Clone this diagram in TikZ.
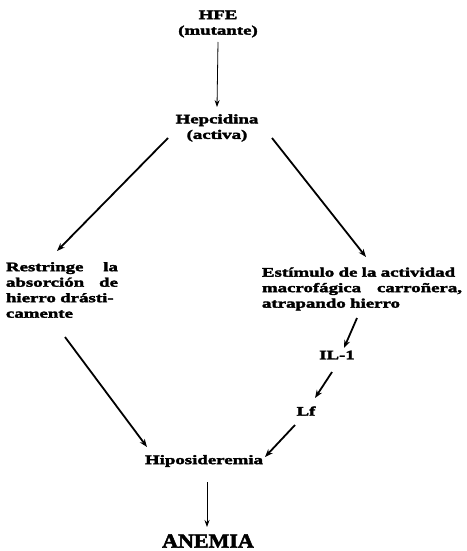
\documentclass[tikz,border=0pt]{standalone}
\usepackage{fontspec}
\setmainfont{Liberation Serif}[FakeStretch=1.45, BoldFeatures={FakeBold=2.5}]
\newfontfamily\anemiafont{Liberation Serif}[FakeStretch=1.1, BoldFeatures={FakeBold=2.5}]
\usetikzlibrary{arrows.meta}
\tikzset{
	txt/.style={inner sep=0pt, font=\bfseries\fontsize{13}{15.5}\selectfont, align=center},
	blk/.style={txt, align=left},
	arr/.style={-{Stealth[length=7pt,width=5pt]}, line width=0.8pt},
	arrthk/.style={-{Stealth[length=8pt,width=6pt]}, line width=1.8pt}
}

\begin{document}
\begin{tikzpicture}[x=1pt,y=-1pt]
		%%%%% START %%%%%
		\useasboundingbox[fill=white] (0,0) rectangle (466,551);
		
		\node[txt] (hfe) at (218,24) {HFE\\(mutante)};
		\node[txt] (hep) at (217,128) {Hepcidina\\(activa)};
		
		\node[blk, text width=112pt] (restr) at (62,290) {Restringe\hfill la\\absorción\hfill de\\hierro drásti-\\camente};
		\node[blk, text width=200pt] (estim) at (362,289) {Estímulo de la actividad\\macrofágica\hfill carroñera,\\atrapando hierro};
		
		\node[txt] (il) at (337,355) {IL-1};
		\node[txt] (lf) at (306,411) {Lf};
		\node[txt] (hipo) at (204,461) {Hiposideremia};
		\node[inner sep=0pt, font=\anemiafont\bfseries\fontsize{20}{20}\selectfont] (anemia) at (208,541) {ANEMIA};
		
		\draw[arr] ([shift={(0,18)}]hfe.center) -- ([shift={(0,-21)}]hep.center);
		\draw[arrthk] ([shift={(-49,10)}]hep.center) -- ([shift={(-5,-39)}]restr.center);
		\draw[arrthk] ([shift={(55,10)}]hep.center) -- ([shift={(4,-32)}]estim.center);
		\draw[arrthk] ([shift={(-5,29)}]estim.center) -- ([shift={(7,-7)}]il.center);
		\draw[arrthk] ([shift={(-5,17)}]il.center) -- ([shift={(9,-13)}]lf.center);
		\draw[arrthk] ([shift={(-11,14)}]lf.center) -- ([shift={(61,-4)}]hipo.center);
		\draw[arrthk] ([shift={(3,47)}]restr.center) -- ([shift={(-57,-14)}]hipo.center);
		\draw[arr] ([shift={(3,21)}]hipo.center) -- ([shift={(-1,-14)}]anemia.center);
		%%%%% END %%%%%
	\end{tikzpicture}
\end{document}
